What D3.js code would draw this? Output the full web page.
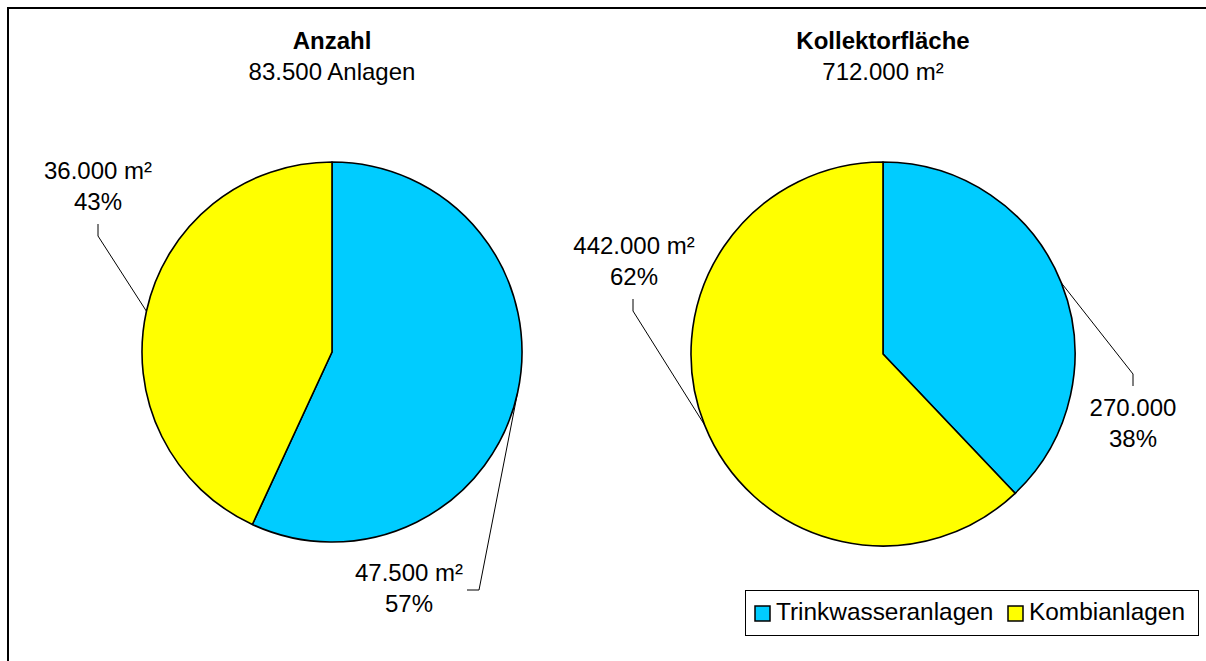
<!DOCTYPE html>
<html>
<head>
<meta charset="utf-8">
<script src="https://cdn.jsdelivr.net/npm/d3@7"></script>
<style>
  html, body { margin: 0; padding: 0; background: #fff; }
  svg { display: block; font-family: "Liberation Sans", Arial, sans-serif; }
</style>
</head>
<body>
<svg id="chart" width="1206" height="661"></svg>
<script>
// ---- data ----
const categories = ["Trinkwasseranlagen", "Kombianlagen"];
const colors = ["#00CCFF", "#FFFF00"];
const chartTitles = ["Anzahl", "Kollektorfläche"];
const chartSubtitles = ["83.500 Anlagen", "712.000 m²"];
const anzahlValues = [47500, 36000];
const anzahlLabels = ["47.500 m²", "36.000 m²"];
const flaecheValues = [270000, 442000];
const flaecheLabels = ["270.000", "442.000 m²"];

// ---- layout ----
const svg = d3.select("#chart");
svg.append("rect").attr("x", 8).attr("y", 8).attr("width", 1400).attr("height", 800)
  .attr("fill", "none").attr("stroke", "#000").attr("stroke-width", 2);

const pies = [
  { cx: 332, cy: 352, r: 190, values: anzahlValues, labels: anzahlLabels,
    lay: [
      { tx: 409, ty: 581, elbow: [479, 590], end: [467, 590] },
      { tx: 98, ty: 179, elbow: [98, 236], end: [98, 224] }
    ] },
  { cx: 883, cy: 354, r: 192, values: flaecheValues, labels: flaecheLabels,
    lay: [
      { tx: 1133, ty: 416, elbow: [1133, 374], end: [1133, 386] },
      { tx: 634, ty: 254, elbow: [633, 311], end: [633, 299] }
    ] }
];

const pieGen = d3.pie().sort(null).value(d => d);
const fmtPct = d3.format(".0%");

pies.forEach((p, i) => {
  const g = svg.append("g").attr("transform", `translate(${p.cx},${p.cy})`);
  const arcs = pieGen(p.values);
  const arc = d3.arc().innerRadius(0).outerRadius(p.r);
  const total = d3.sum(p.values);

  g.selectAll("path.slice").data(arcs).join("path")
    .attr("class", "slice")
    .attr("d", arc)
    .attr("fill", (d, j) => colors[j])
    .attr("stroke", "#000")
    .attr("stroke-width", 1.6)
    .attr("stroke-linejoin", "round");

  arcs.forEach((a, j) => {
    const mid = (a.startAngle + a.endAngle) / 2;
    const ex = p.cx + p.r * Math.sin(mid);
    const ey = p.cy - p.r * Math.cos(mid);
    const L = p.lay[j];
    svg.append("polyline")
      .attr("points", [[ex, ey], L.elbow, L.end].map(q => q.join(",")).join(" "))
      .attr("fill", "none").attr("stroke", "#000").attr("stroke-width", 1);
    const t = svg.append("text").attr("text-anchor", "middle")
      .attr("font-size", 24).attr("fill", "#000");
    t.append("tspan").attr("x", L.tx).attr("y", L.ty).text(p.labels[j]);
    t.append("tspan").attr("x", L.tx).attr("y", L.ty + 31).text(fmtPct(a.value / total));
  });

  svg.append("text").attr("x", p.cx).attr("y", 49).attr("text-anchor", "middle")
    .attr("font-size", 24).attr("font-weight", "bold").text(chartTitles[i]);
  svg.append("text").attr("x", p.cx).attr("y", 80).attr("text-anchor", "middle")
    .attr("font-size", 24).text(chartSubtitles[i]);
});

// legend
const lg = svg.append("g");
lg.append("rect").attr("x", 745.5).attr("y", 590.5).attr("width", 453).attr("height", 45)
  .attr("fill", "#fff").attr("stroke", "#000").attr("stroke-width", 1);
const legendX = [755, 1008];
categories.forEach((c, j) => {
  lg.append("rect").attr("x", legendX[j]).attr("y", 606).attr("width", 15).attr("height", 15)
    .attr("fill", colors[j]).attr("stroke", "#000").attr("stroke-width", 1.5);
  lg.append("text").attr("x", legendX[j] + 21).attr("y", 620)
    .attr("font-size", 24.4).text(c);
});
</script>
</body>
</html>
